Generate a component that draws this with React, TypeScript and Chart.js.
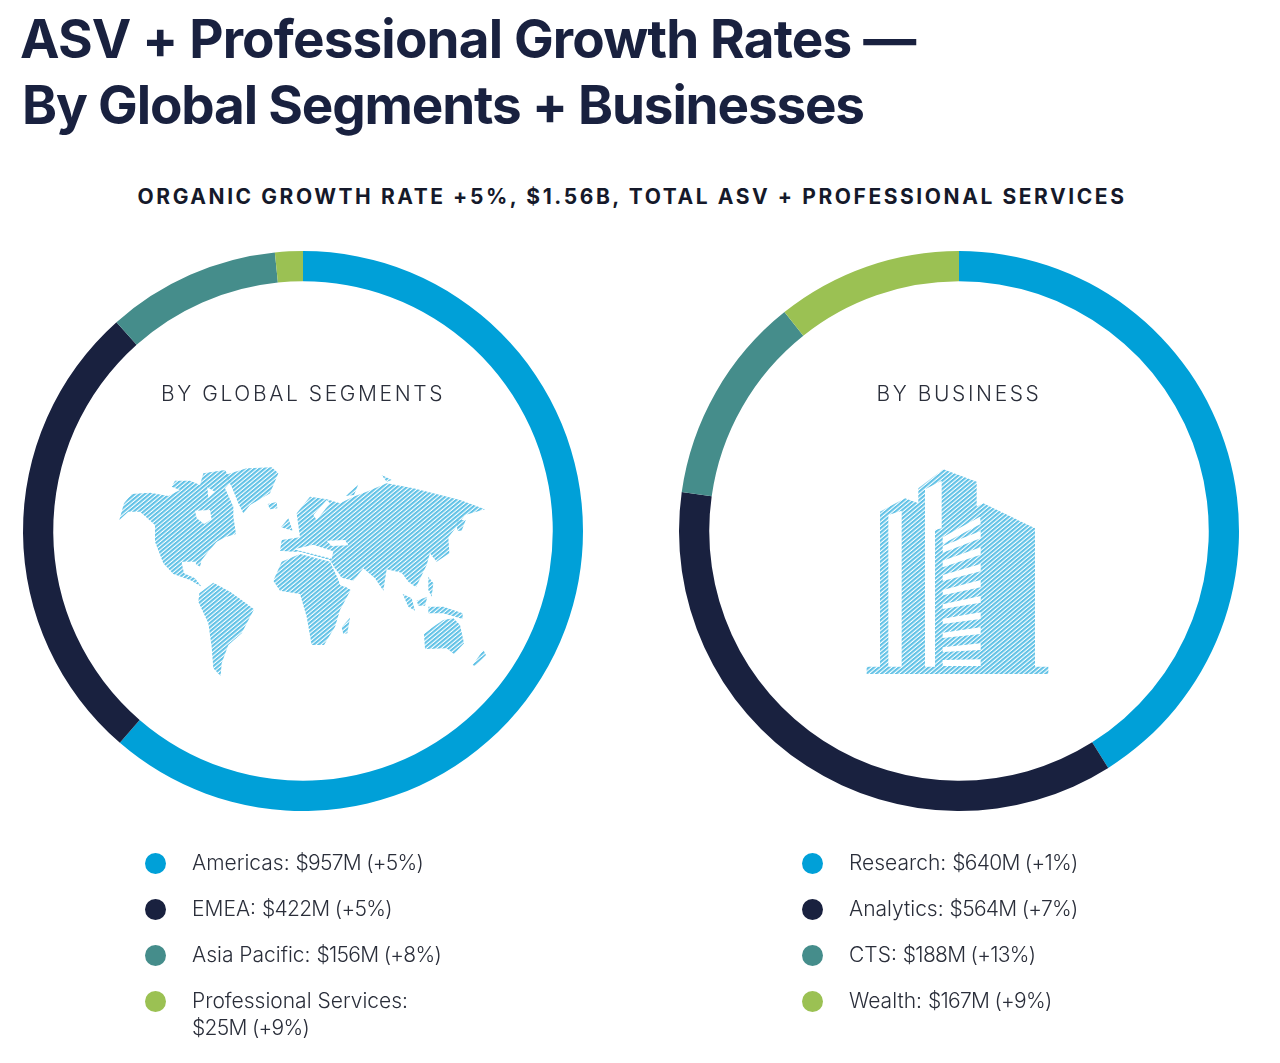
import React, { useEffect, useRef } from "react";
import { Chart, registerables } from "chart.js";

Chart.register(...registerables);

const titleLines = ["ASV + Professional Growth Rates —", "By Global Segments + Businesses"];
const titleSpacing = [-0.83, -1.15];
const subtitle = "ORGANIC GROWTH RATE +5%, $1.56B, TOTAL ASV + PROFESSIONAL SERVICES";
const colors = ["#00a0d8", "#19213f", "#458d8b", "#9bc153"];

const segmentLabels = ["Americas", "EMEA", "Asia Pacific", "Professional Services"];
const segmentValues = [957, 422, 156, 25];
const segmentGrowth = [5, 5, 8, 9];

const businessLabels = ["Research", "Analytics", "CTS", "Wealth"];
const businessValues = [640, 564, 188, 167];
const businessGrowth = [1, 7, 13, 9];

const landShapes = [
  "58,210 72,160 95,132 150,128 205,138 240,120 215,110 225,92 270,92 300,105 310,70 375,60 395,95 375,115 400,170 400,200 408,252 375,262 350,275 325,305 305,330 300,350 275,335 245,338 252,370 285,385 305,410 270,390 220,372 190,340 165,275 165,225 120,185 85,185",
  "375,75 440,55 515,52 535,70 510,130 450,165 430,190 415,160 395,110",
  "298,430 340,398 390,425 425,450 462,478 425,550 385,585 365,640 362,678 340,655 335,590 325,520 295,455",
  "520,392 545,335 600,312 690,335 720,400 752,420 720,480 705,530 672,585 635,585 620,500 600,432 540,422",
  "540,302 545,270 600,262 590,190 630,140 680,148 720,160 760,140 800,125 860,100 940,115 1000,130 1080,150 1155,178 1095,195 1062,240 1045,262 1048,310 1010,335 990,310 980,345 948,412 925,395 905,368 860,358 850,422 825,385 790,355 760,392 720,382 690,330 600,305 580,305",
  "972,552 1000,530 1030,510 1060,505 1080,525 1092,580 1062,612 1040,595 975,597",
  "725,532 750,503 742,550 730,552",
  "1118,645 1150,600 1158,615 1125,648",
  "543,232 565,205 578,242",
  "503,162 530,156 532,175 510,178",
  "908,432 935,445 945,482 925,470",
  "950,452 982,440 975,467 955,467",
  "985,470 1030,470 1088,490 1088,507 1030,490 985,490",
  "985,380 1000,400 995,440 985,420",
  "1070,210 1097,210 1085,242 1072,242",
  "738,138 775,103 762,135",
  "845,75 875,90 860,95",
];
const waterShapes = [
  "285,182 330,180 335,208 312,222 290,205",
  "582,298 640,284 700,304 695,326 630,310",
  "680,272 735,270 745,286 695,288",
  "705,355 720,375 735,412 720,405",
  "322,112 345,125 325,145",
  "245,335 290,335 280,360 255,362",
  "640,195 680,150 690,160 650,210",
];
const towerOutline = "90,185 165,145 205,160 205,115 280,58 380,95 380,170 400,160 555,235 555,650 595,650 595,672 50,672 50,650 90,650";
const towerWindows = [
  "115,195 155,182 155,650 115,650",
  "225,118 275,92 275,235 255,240 255,650 225,650",
  "278,262 390,200 392,222 278,282",
  "278,288 392,243 392,265 278,308",
  "278,332 392,292 392,314 278,352",
  "278,375 392,342 392,364 278,393",
  "278,420 392,390 392,412 278,436",
  "278,463 392,438 392,458 278,477",
  "278,506 392,487 392,507 278,522",
  "278,548 392,532 392,552 278,564",
  "278,592 392,580 392,600 278,606",
  "278,630 392,628 392,648 278,648",
];

const place = (points: string, ox: number, oy: number) =>
  points.split(" ").map((q) => {
    const [x, y] = q.split(",").map(Number);
    return `${ox + x / 3},${oy + y / 3}`;
  }).join(" ");

function Donut({ left, labels, values }: { left: number; labels: string[]; values: number[] }) {
  const ref = useRef<HTMLCanvasElement>(null);
  useEffect(() => {
    const chart = new Chart(ref.current!, {
      type: "doughnut",
      data: { labels, datasets: [{ data: values, backgroundColor: colors, borderWidth: 0, hoverOffset: 0 }] },
      options: {
        animation: false,
        responsive: false,
        radius: 280,
        cutout: "89.2%",
        plugins: { legend: { display: false }, tooltip: { enabled: false } },
      },
    });
    return () => chart.destroy();
  }, []);
  return <canvas ref={ref} width={600} height={600} style={{ position: "absolute", left, top: 231, width: 600, height: 600 }} />;
}

function Legend({ dotX, labels, values, growth }: { dotX: number; labels: string[]; values: number[]; growth: number[] }) {
  const rows = [863, 909, 955, 1001];
  return (
    <>
      {labels.map((label, i) => {
        const text = `$${values[i]}M (+${growth[i]}%)`;
        const wrap = label.length > 15;
        return (
          <React.Fragment key={label}>
            <div style={{ position: "absolute", left: dotX - 10.5, top: rows[i] - 10.5, width: 21, height: 21, borderRadius: "50%", background: colors[i] }} />
            <div style={{ position: "absolute", left: dotX + 37, top: rows[i] - 14, lineHeight: "27px", fontSize: 21, fontWeight: 300, color: "#2a2e3a", fontFamily: "Inter, sans-serif", whiteSpace: "nowrap" }}>
              <span style={{ letterSpacing: 0 }}>{label}:</span>
              {wrap ? <br /> : " "}
              <span style={{ letterSpacing: -0.7 }}>{text}</span>
            </div>
          </React.Fragment>
        );
      })}
    </>
  );
}

const centerLabel = (text: string, cx: number) => (
  <div style={{ position: "absolute", left: cx - 200, width: 400, top: 380, textAlign: "center", lineHeight: "28px", fontSize: 21, fontWeight: 300, letterSpacing: 2.6, color: "#2a2e3a", fontFamily: "Inter, sans-serif" }}>{text}</div>
);

export default function App() {
  return (
    <div style={{ position: "absolute", left: 0, top: 0, width: 1280, height: 1063, overflow: "hidden", background: "#fff" }}>
      {titleLines.map((line, i) => (
        <div key={line} style={{ position: "absolute", left: i === 0 ? 20 : 22, top: 6 + i * 66, lineHeight: "66px", fontSize: 53, fontWeight: 700, letterSpacing: titleSpacing[i], color: "#19213f", fontFamily: "Inter, sans-serif", whiteSpace: "nowrap" }}>{line}</div>
      ))}
      <div style={{ position: "absolute", left: 0, width: 1264, top: 183, textAlign: "center", lineHeight: "28px", fontSize: 21, fontWeight: 700, letterSpacing: 2.57, color: "#15192a", fontFamily: "Inter, sans-serif", whiteSpace: "nowrap" }}>{subtitle}</div>
      <Donut left={3} labels={segmentLabels} values={segmentValues} />
      <Donut left={659} labels={businessLabels} values={businessValues} />
      {centerLabel("BY GLOBAL SEGMENTS", 303)}
      {centerLabel("BY BUSINESS", 959)}
      <svg width={1280} height={1063} style={{ position: "absolute", left: 0, top: 0 }}>
        <defs>
          <pattern id="hatch" width="3.2" height="3.2" patternUnits="userSpaceOnUse" patternTransform="rotate(50)">
            <rect width="2.1" height="3.2" fill="#62c2e6" />
          </pattern>
        </defs>
        {landShapes.map((p) => <polygon key={p} points={place(p, 100, 450)} fill="url(#hatch)" />)}
        {waterShapes.map((p) => <polygon key={p} points={place(p, 100, 450)} fill="#fff" />)}
        <polygon points={place(towerOutline, 850, 450)} fill="url(#hatch)" />
        {towerWindows.map((p) => <polygon key={p} points={place(p, 850, 450)} fill="#fff" />)}
      </svg>
      <Legend dotX={155} labels={segmentLabels} values={segmentValues} growth={segmentGrowth} />
      <Legend dotX={812} labels={businessLabels} values={businessValues} growth={businessGrowth} />
    </div>
  );
}
